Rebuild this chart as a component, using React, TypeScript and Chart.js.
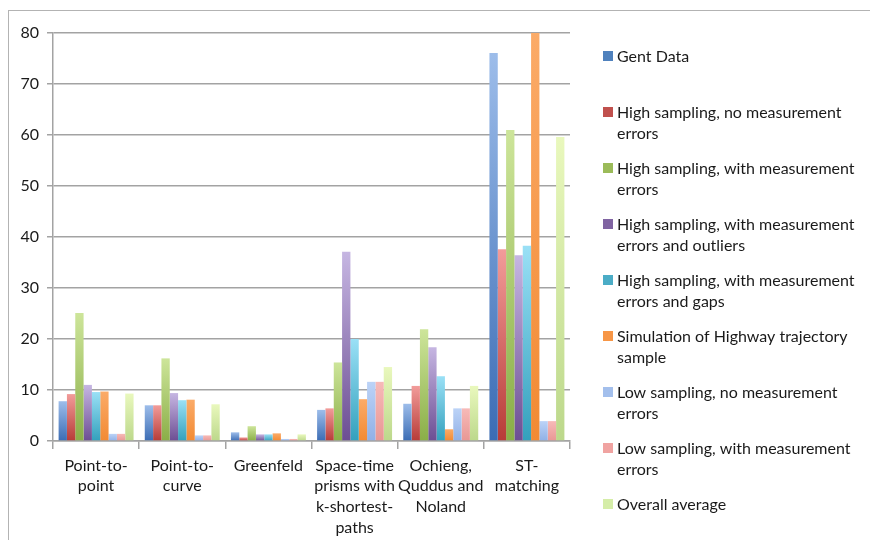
import React, { useEffect, useRef } from 'react';
import { Chart, registerables } from 'chart.js';

Chart.register(...registerables);

// ---------- data ----------
const categories: string[][] = [
  ['Point-to-', 'point'],
  ['Point-to-', 'curve'],
  ['Greenfeld'],
  ['Space-time', 'prisms with', 'k-shortest-', 'paths'],
  ['Ochieng,', 'Quddus and', 'Noland'],
  ['ST-', 'matching'],
];

const seriesLabels: string[] = [
  'Gent Data',
  'High sampling, no measurement errors',
  'High sampling, with measurement errors',
  'High sampling, with measurement errors and outliers',
  'High sampling, with measurement errors and gaps',
  'Simulation of Highway trajectory sample',
  'Low sampling, no measurement errors',
  'Low sampling, with measurement errors',
  'Overall average',
];

const legendLines: string[][] = [
  ['Gent Data'],
  ['High sampling, no measurement', 'errors'],
  ['High sampling, with measurement', 'errors'],
  ['High sampling, with measurement', 'errors and outliers'],
  ['High sampling, with measurement', 'errors and gaps'],
  ['Simulation of Highway trajectory', 'sample'],
  ['Low sampling, no measurement', 'errors'],
  ['Low sampling, with measurement', 'errors'],
  ['Overall average'],
];

const gentData = [7.8, 7.0, 1.7, 6.1, 7.3, 76.1];
const highNoErrors = [9.2, 7.0, 0.7, 6.4, 10.8, 37.6];
const highWithErrors = [25.1, 16.2, 2.9, 15.4, 21.9, 61.0];
const highErrorsOutliers = [11.0, 9.4, 1.3, 37.1, 18.4, 36.4];
const highErrorsGaps = [9.6, 8.0, 1.3, 20.0, 12.7, 38.3];
const simulationHighway = [9.7, 8.1, 1.5, 8.2, 2.3, 80.0];
const lowNoErrors = [1.4, 1.1, 0.4, 11.6, 6.4, 3.9];
const lowWithErrors = [1.4, 1.1, 0.4, 11.6, 6.4, 3.9];
const overallAverage = [9.3, 7.2, 1.3, 14.5, 10.8, 59.6];

const seriesValues: number[][] = [
  gentData,
  highNoErrors,
  highWithErrors,
  highErrorsOutliers,
  highErrorsGaps,
  simulationHighway,
  lowNoErrors,
  lowWithErrors,
  overallAverage,
];

const yTickValues = [0, 10, 20, 30, 40, 50, 60, 70, 80];

// ---------- styles ----------
const legendColors = ['#4f81bd', '#c0504d', '#9bbb59', '#8064a2', '#4bacc6', '#f79646', '#a3bfec', '#f0a3a1', '#d5eda8'];
const gradTops = ['#9dbdea', '#f29c9a', '#cde59a', '#c6b6e2', '#9ae0f6', '#fbab68', '#bcd3f7', '#f7bab8', '#e9f8bd'];
const gradBottoms = ['#3b6cb4', '#b73b37', '#8aae47', '#6c4e93', '#33a0bc', '#f28a33', '#90b0e6', '#e89794', '#bcd88b'];

const FONT_FAMILY = 'Lato, "Noto Sans", sans-serif';
const TEXT_COLOR = '#1a1a1a';
const GRID_COLOR = '#a3a3a3';

const sideLegend = {
  id: 'sideLegend',
  afterDraw(chart: any) {
    const { ctx, chartArea } = chart;
    const boxX = chartArea.right + 33;
    let y = chartArea.top + 24;
    ctx.save();
    ctx.font = `16px ${FONT_FAMILY}`;
    ctx.textBaseline = 'middle';
    ctx.textAlign = 'left';
    chart.data.datasets.forEach((_ds: any, i: number) => {
      ctx.fillStyle = legendColors[i];
      ctx.fillRect(boxX, y - 6, 10, 10);
      ctx.fillStyle = TEXT_COLOR;
      legendLines[i].forEach((line, j) => {
        ctx.fillText(line, boxX + 14, y + j * 21);
      });
      y += 56;
    });
    ctx.restore();
  },
};

export default function App() {
  const canvasRef = useRef<HTMLCanvasElement | null>(null);

  useEffect(() => {
    if (!canvasRef.current) return;
    const datasets = seriesValues.map((vals, i) => ({
      label: seriesLabels[i],
      data: vals,
      borderWidth: 0,
      backgroundColor: (c: any) => {
        const chart = c.chart;
        if (!chart.chartArea || c.type !== 'data') return legendColors[i];
        const ys = chart.scales.y;
        const top = ys.getPixelForValue(c.raw as number);
        const base = ys.getPixelForValue(0);
        if (!isFinite(top) || !isFinite(base) || base - top < 1) return gradBottoms[i];
        const g = chart.ctx.createLinearGradient(0, top, 0, base);
        g.addColorStop(0, gradTops[i]);
        g.addColorStop(1, gradBottoms[i]);
        return g;
      },
    }));

    const chart = new Chart(canvasRef.current, {
      type: 'bar',
      data: { labels: categories as any, datasets },
      options: {
        animation: false,
        responsive: true,
        maintainAspectRatio: false,
        layout: { padding: { top: 33, right: 300, bottom: 0, left: 0 } },
        datasets: { bar: { categoryPercentage: 0.87, barPercentage: 1.0 } } as any,
        plugins: {
          legend: { display: false },
          tooltip: { enabled: false },
        },
        scales: {
          x: {
            grid: {
              display: true,
              drawOnChartArea: false,
              drawTicks: true,
              tickLength: 8,
              color: GRID_COLOR,
              lineWidth: 1.5,
              offset: true,
            },
            border: { display: true, color: GRID_COLOR, width: 1.5 },
            ticks: {
              font: { family: FONT_FAMILY, size: 16, lineHeight: 1.3 },
              color: TEXT_COLOR,
              padding: 6,
              maxRotation: 0,
              autoSkip: false,
            },
            afterFit: (s: any) => {
              s.height = 99;
            },
          },
          y: {
            min: 0,
            max: 80,
            afterBuildTicks: (s: any) => {
              s.ticks = yTickValues.map((v) => ({ value: v }));
            },
            grid: { color: GRID_COLOR, lineWidth: 1.5, tickLength: 6 },
            border: { display: true, color: GRID_COLOR, width: 1.5 },
            ticks: {
              font: { family: FONT_FAMILY, size: 16 },
              color: TEXT_COLOR,
              padding: 8,
            },
            afterFit: (s: any) => {
              s.width = 53;
            },
          },
        },
      },
      plugins: [sideLegend],
    });
    return () => chart.destroy();
  }, []);

  return (
    <>
      <div
        style={{
          position: 'fixed',
          left: 8,
          top: 10,
          width: 900,
          height: 600,
          borderLeft: '1px solid #b3b3b3',
          borderTop: '1px solid #b3b3b3',
          boxSizing: 'border-box',
        }}
      />
      <div style={{ position: 'fixed', left: 0, top: 0, width: 870, height: 540 }}>
        <canvas ref={canvasRef} />
      </div>
    </>
  );
}
